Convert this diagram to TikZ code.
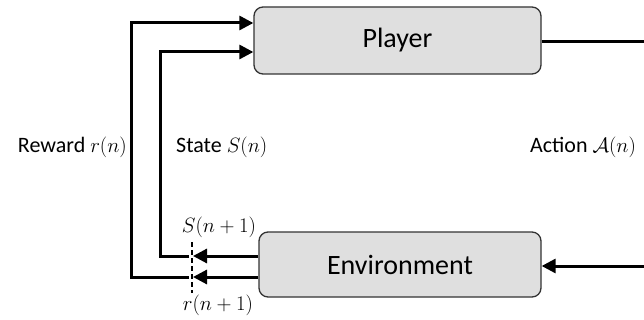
\documentclass[tikz,border=0pt]{standalone}
\usepackage{fontspec}
\setmainfont{Carlito}
\usetikzlibrary{arrows.meta}
\tikzset{
  blk/.style={draw=black!80, line width=1.3pt, fill=gray!25, rounded corners=9pt, font=\fontsize{28}{32}\selectfont},
  lbl/.style={font=\fontsize{22}{26}\selectfont, inner sep=0pt},
  wire/.style={line width=3pt},
  flow/.style={wire, -{Triangle[length=14pt,width=14pt]}},
}
\begin{document}
\begin{tikzpicture}[x=1pt,y=-1pt]
\useasboundingbox (0,0) rectangle (644,320);
\node (player)[blk, minimum width=287pt, minimum height=67pt] at (397.5,40.5) {Player};
\node (env)[blk, minimum width=282pt, minimum height=65pt] at (400,264.5) {Environment};
% labels
\node (reward)[lbl, anchor=east] at (127,147) {Reward $r(n)$};
\node (state)[lbl, anchor=west] at (176,147) {State $S(n)$};
\node (action)[lbl] at (583,147) {Action $\mathcal{A}(n)$};
\node (snext)[lbl] at (219,227) {$S(n+1)$};
\node (rnext)[lbl] at (218,305) {$r(n+1)$};
% sample line
\coordinate (dtop) at (192,242);
\coordinate (dbot) at (192,293);
\draw[line width=1.4pt, dash pattern=on 5pt off 3pt] (dtop) -- (dbot);
% feedback to the player
\coordinate (rcut) at (189,277);
\coordinate (scut) at (189,256);
\draw[flow] (rcut) -- (131,277) |- (player.west |- 0,23);
\draw[flow] (scut) -- (160,256) |- (player.west |- 0,52);
\draw[flow] (env.west |- 0,256) -- (193,256);
\draw[flow] (env.west |- 0,277) -- (193,277);
% action loop
\coordinate (aout) at (644,42);
\coordinate (ain) at (644,266);
\draw[wire] (player.east |- aout) -- (aout);
\draw[flow] (ain) -- (env.east |- ain);
\end{tikzpicture}
\end{document}
